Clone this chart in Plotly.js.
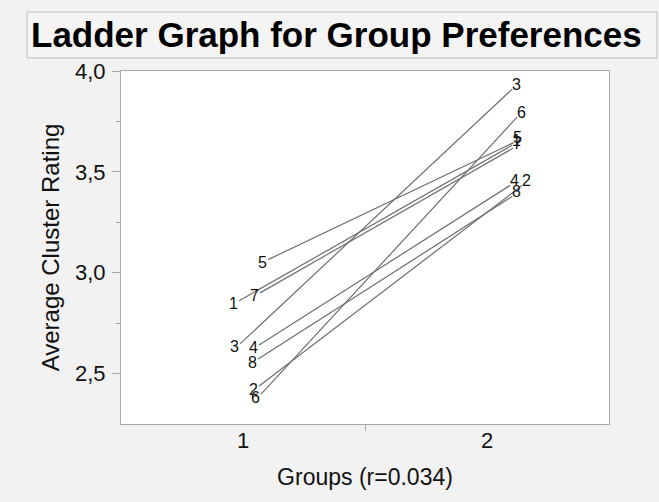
<!DOCTYPE html>
<html>
<head>
<meta charset="utf-8">
<script src="https://cdn.plot.ly/plotly-3.0.1.min.js"></script>
<style>
  html, body { margin: 0; padding: 0; background: #f2f2f2; }
  #chart { width: 659px; height: 502px; }
</style>
</head>
<body>
<div id="chart"></div>
<script>
// Item labels (clusters)
const itemLabels = ['1', '2', '3', '4', '5', '6', '7', '8'];
// Group 1 (left rung): plotted group position (jittered) and average rating
const group1Pos    = [0.984, 1.066, 0.988, 1.066, 1.103, 1.074, 1.070, 1.062];
const group1Rating = [2.861, 2.438, 2.647, 2.642, 3.065, 2.398, 2.900, 2.572];
// Group 2 (right rung)
const group2Pos    = [2.103, 2.144, 2.103, 2.095, 2.109, 2.123, 2.107, 2.103];
const group2Rating = [3.632, 3.433, 3.910, 3.433, 3.645, 3.771, 3.617, 3.378];
// Axis ticks
const yTickVals = [2.5, 3.0, 3.5, 4.0];
const yMinorVals = [2.75, 3.25, 3.75];
const xTickVals = [1, 2];
const xTickText = ['1', '2'];
const xMinorVals = [1.5];
const chartTitle = 'Ladder Graph for Group Preferences';

const FONT = '"Liberation Sans", Arial, Helvetica, sans-serif';

const traces = itemLabels.map((lab, i) => ({
  type: 'scatter',
  mode: 'lines',
  x: [group1Pos[i], group2Pos[i]],
  y: [group1Rating[i], group2Rating[i]],
  line: { color: '#6e6e6e', width: 1.2 },
  hoverinfo: 'skip',
  showlegend: false
}));

// paper coords helpers: plot area px x 121..609, y 71..424
const px2x = px => (px - 121) / 488;
const py2y = py => (424 - py) / 353;

const annotations = [];
itemLabels.forEach((lab, i) => {
  annotations.push({
    x: group1Pos[i], y: group1Rating[i], xref: 'x', yref: 'y',
    text: lab, showarrow: false, xanchor: 'center', yanchor: 'middle',
    xshift: -6, yshift: -3,
    font: { family: FONT, size: 16, color: '#111' }
  });
  annotations.push({
    x: group2Pos[i], y: group2Rating[i], xref: 'x', yref: 'y',
    text: lab, showarrow: false, xanchor: 'center', yanchor: 'middle',
    xshift: 4, yshift: 5,
    font: { family: FONT, size: 16, color: '#111' }
  });
});
annotations.push({
  xref: 'paper', yref: 'paper', x: px2x(29), y: py2y(34),
  xanchor: 'left', yanchor: 'middle', showarrow: false,
  text: '<b>' + chartTitle + '</b>',
  font: { family: FONT, size: 35, color: '#000' }
});

const layout = {
  width: 659, height: 502,
  paper_bgcolor: '#f2f2f2',
  plot_bgcolor: '#ffffff',
  separators: ',.',
  margin: { l: 121, r: 50, t: 71, b: 78, pad: 0 },
  xaxis: {
    range: [0.5, 2.5],
    tickmode: 'array', tickvals: xTickVals, ticktext: xTickText,
    ticks: '', showgrid: false, zeroline: false,
    showline: true, linecolor: '#a9a9a9', linewidth: 1, mirror: true,
    tickfont: { family: FONT, size: 22, color: '#111' },
    ticklabelstandoff: -3,
    minor: { tickmode: 'array', tickvals: xMinorVals, ticks: 'outside', ticklen: 6, tickcolor: '#a9a9a9', showgrid: false },
    title: { text: 'Groups (r=0.034)', font: { family: FONT, size: 23, color: '#111' }, standoff: 16 }
  },
  yaxis: {
    range: [2.25, 4.0],
    tickmode: 'array', tickvals: yTickVals, tickformat: '.1f',
    ticks: 'outside', ticklen: 8, tickcolor: '#a9a9a9',
    showgrid: false, zeroline: false,
    showline: true, linecolor: '#a9a9a9', linewidth: 1, mirror: true,
    tickfont: { family: FONT, size: 22, color: '#111' },
    ticklabelstandoff: 2,
    minor: { tickmode: 'array', tickvals: yMinorVals, ticks: 'outside', ticklen: 4, tickcolor: '#a9a9a9', showgrid: false },
    title: { text: 'Average Cluster Rating', font: { family: FONT, size: 24, color: '#111' }, standoff: 8 }
  },
  shapes: [
    { type: 'rect', xref: 'paper', yref: 'paper', layer: 'below',
      x0: px2x(27), x1: px2x(657), y0: py2y(58), y1: py2y(12),
      line: { color: '#bdbdbd', width: 1 }, fillcolor: '#f4f4f4' }
  ],
  annotations: annotations
};

Plotly.newPlot('chart', traces, layout, { displayModeBar: false, staticPlot: true });
</script>
</body>
</html>
